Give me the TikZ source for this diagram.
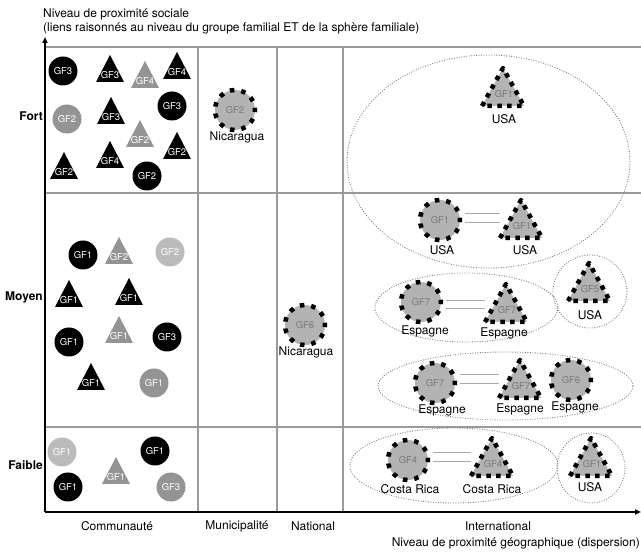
\documentclass[tikz,border=0pt]{standalone}
\usepackage{fontspec}
\setmainfont{TeX Gyre Heros}
\usetikzlibrary{arrows.meta}
\definecolor{mgray}{HTML}{949494}
\definecolor{lgray}{HTML}{BBBBBB}
\definecolor{dfill}{HTML}{B3B3B3}
\definecolor{dtext}{HTML}{787878}
\definecolor{gridc}{HTML}{9A9A9A}
\definecolor{grpc}{HTML}{808080}
\definecolor{pairc}{HTML}{A8A8A8}
\tikzset{
 lbl/.style={font=\fontsize{12}{14}\selectfont, inner sep=0},
 rowlbl/.style={font=\bfseries\fontsize{12}{14}\selectfont, anchor=east, inner sep=0},
 gf/.style={font=\fontsize{9.5}{11}\selectfont, inner sep=0},
 disc/.style={circle, minimum size=29, inner sep=0, fill=#1, text=white, gf},
 ring/.style={circle, minimum size=40, inner sep=0, fill=dfill, draw=black, line width=4.5, dash pattern=on 4.5 off 6.92, dash phase=2.25, text=dtext, gf},
 ringtri/.style={fill=dfill, draw=black, line width=4.5, dash pattern=on 4.5 off 5.41, line join=round},
 grp/.style={draw=grpc, line width=0.9, dash pattern=on 0.9 off 1.6},
 pairl/.style={draw=pairc, line width=0.9, shorten <=3pt},
 gridline/.style={draw=gridc, line width=1.1},
 axis/.style={draw=black, line width=1.6, -{Triangle[length=6,width=5]}},
}
\newcommand{\STri}[5]{%
 \fill[#4] (#2-14,#3+13) -- (#2,#3-14) -- (#2+14,#3+13) -- cycle;
 \node[gf, text=white] (#1) at (#2,#3+6) {#5};
}
\newcommand{\DTri}[4]{%
 \filldraw[ringtri] (#2-21,#3+38) -- (#2,#3) -- (#2+21,#3+38) -- cycle;
 \node[gf, text=dtext] (#1) at (#2+1,#3+26) {#4};
 \coordinate (#1w) at (#2-21,#3+19);
}
\newcommand{\Pair}[4]{%
 \draw[pairl, transform canvas={yshift=#3}] (#1.east) -- (#1.east -| #2w);
 \draw[pairl, transform canvas={yshift=#4}] (#1.east) -- (#1.east -| #2w);
}
\begin{document}
\begin{tikzpicture}[x=1pt,y=-1pt]
\useasboundingbox (0,0) rectangle (641,553);
% grid
\draw[gridline] (45,47) -- (641,47);
\draw[gridline] (45,193) -- (641,193);
\draw[gridline] (45,427) -- (641,427);
\draw[gridline] (198,47) -- (198,512);
\draw[gridline] (277,47) -- (277,512);
\draw[gridline] (343,47) -- (343,512);
% titles
\node[lbl, anchor=west] (t1) at (43,14) {Niveau de proximité sociale};
\node[lbl, anchor=west] (t2) at (43,28) {(liens raisonnés au niveau du groupe familial ET de la sphère familiale)};
\node[rowlbl] (rf) at (43,116) {Fort};
\node[rowlbl] (rm) at (43,297) {Moyen};
\node[rowlbl] (rw) at (43,465) {Faible};
\node[lbl] (c1) at (117,526) {Communauté};
\node[lbl] (c2) at (237,526) {Municipalité};
\node[lbl] (c3) at (313,526) {National};
\node[lbl] (c4) at (498,526) {International};
\node[lbl, anchor=east] (xl) at (640,543) {Niveau de proximité géographique (dispersion)};
% group ellipses
\draw[grp] (488.5,161.5) ellipse [x radius=141.5, y radius=106.5];
\draw[grp] (466.5,307.5) ellipse [x radius=91.5, y radius=34.5];
\draw[grp] (590,291.5) ellipse [x radius=37, y radius=36.5];
\draw[grp] (505.5,386) ellipse [x radius=127.5, y radius=34];
\draw[grp] (454,465.5) ellipse [x radius=104, y radius=37.5];
\draw[grp] (591,468) ellipse [x radius=34, y radius=35];
% Fort / Communaute
\node[disc=black] (f1) at (63,71) {GF3};
\STri{f2}{110}{69}{black}{GF3}
\STri{f3}{145}{75}{mgray}{GF4}
\STri{f4}{177}{66}{black}{GF4}
\node[disc=mgray] (f5) at (67,119) {GF2};
\STri{f6}{111}{111}{black}{GF3}
\node[disc=black] (f7) at (172,106) {GF3};
\STri{f8}{140}{134}{mgray}{GF2}
\STri{f9}{177}{146}{black}{GF2}
\STri{f10}{64}{166}{black}{GF2}
\STri{f11}{110}{155}{black}{GF4}
\node[disc=black] (f12) at (147,176) {GF2};
% Moyen / Communaute
\node[disc=black] (m1) at (83,255) {GF1};
\STri{m2}{119}{251}{mgray}{GF2}
\node[disc=lgray] (m3) at (170,252) {GF2};
\STri{m4}{69}{294}{black}{GF1}
\STri{m5}{129}{292}{black}{GF1}
\node[disc=black] (m6) at (69,342) {GF1};
\STri{m7}{119}{330}{mgray}{GF1}
\node[disc=black] (m8) at (167,337) {GF3};
\STri{m9}{91}{377}{black}{GF1}
\node[disc=mgray] (m10) at (154,383) {GF1};
% Faible / Communaute
\node[disc=lgray] (w1) at (62,452) {GF1};
\node[disc=black] (w2) at (155,451) {GF1};
\node[disc=black] (w3) at (68,487) {GF1};
\STri{w4}{116}{471}{mgray}{GF1}
\node[disc=mgray] (w5) at (171,487) {GF3};
% Municipalite / National
\node[ring] (n1) at (235,110) {GF2};
\node[lbl] (n1l) at (237,137) {Nicaragua};
\node[ring] (n2) at (305,325) {GF6};
\node[lbl] (n2l) at (306,352) {Nicaragua};
% International
\DTri{u1}{503}{68}{GF1}
\node[lbl] (u1l) at (504,119) {USA};
\node[ring] (u2) at (440,220) {GF1};
\node[lbl] (u2l) at (442,250) {USA};
\DTri{u3}{521}{200}{GF1}
\node[lbl] (u3l) at (525,250) {USA};
\DTri{u4}{589}{263}{GF5}
\node[lbl] (u4l) at (590,315) {USA};
\node[ring] (e1) at (421,302) {GF7};
\node[lbl] (e1l) at (425,331) {Espagne};
\DTri{e2}{506}{284}{GF7}
\node[lbl] (e2l) at (504,333) {Espagne};
\node[ring] (e3) at (435,383) {GF7};
\node[lbl] (e3l) at (442,410) {Espagne};
\DTri{e4}{520}{360}{GF7}
\node[lbl] (e4l) at (520,409) {Espagne};
\node[ring] (e5) at (571,380) {GF6};
\node[lbl] (e5l) at (575,407) {Espagne};
\node[ring] (k1) at (408,460) {GF4};
\node[lbl] (k1l) at (410,489) {Costa Rica};
\DTri{k2}{492}{438}{GF4}
\node[lbl] (k2l) at (492,489) {Costa Rica};
\DTri{k3}{591}{438}{GF1}
\node[lbl] (k3l) at (590,487) {USA};
% paired links
\Pair{u2}{u3}{7pt}{-2pt}
\Pair{e1}{e2}{2pt}{-6pt}
\Pair{e3}{e4}{9pt}{0pt}
\Pair{k1}{k2}{8pt}{-1pt}
% axes
\coordinate (o) at (45,512);
\coordinate (ytop) at (45,37);
\coordinate (xend) at (641,512);
\draw[axis] (o) -- (ytop);
\draw[axis] (o) -- (xend);
\end{tikzpicture}
\end{document}
